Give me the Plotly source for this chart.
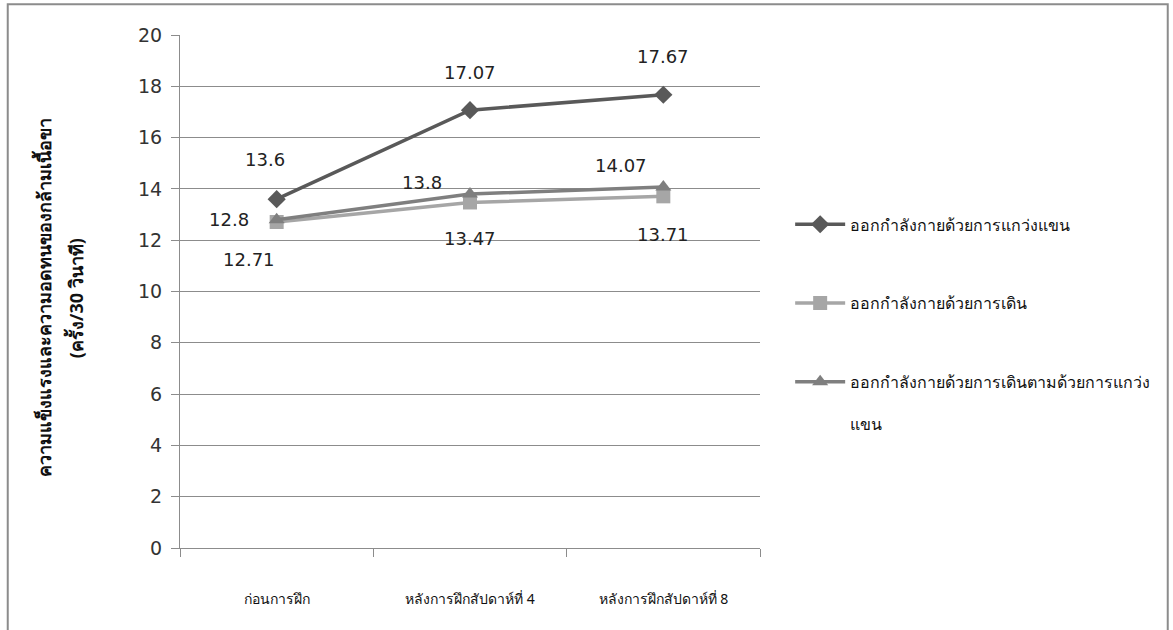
import plotly.graph_objects as go

categories = ["ก่อนการฝึก", "หลังการฝึกสัปดาห์ที่ 4", "หลังการฝึกสัปดาห์ที่ 8"]
series_names = [
    "ออกกำลังกายด้วยการแกว่งแขน",
    "ออกกำลังกายด้วยการเดิน",
    "ออกกำลังกายด้วยการเดินตามด้วยการแกว่ง<br><br>แขน",
]
arm_swing = [13.6, 17.07, 17.67]
walking = [12.71, 13.47, 13.71]
walk_arm = [12.8, 13.8, 14.07]
y_ticks = [0, 2, 4, 6, 8, 10, 12, 14, 16, 18, 20]
y_title_lines = ["ความแข็งแรงและความอดทนของกล้ามเนื้อขา", "(ครั้ง/30 วินาที)"]

colors = ["#595959", "#A6A6A6", "#7F7F7F"]
symbols = ["diamond", "square", "triangle-up"]
data = [arm_swing, walking, walk_arm]

fig = go.Figure()
for i, (name, vals) in enumerate(zip(series_names, data)):
    fig.add_trace(go.Scatter(
        x=categories, y=vals, name=name, mode="lines+markers",
        line=dict(color=colors[i], width=3.5),
        marker=dict(symbol=symbols[i], size=14, color=colors[i]),
        legendgroup=f"g{i}",
    ))

label_font = dict(family="DejaVu Sans", size=18, color="#222")
offsets = {
    0: [(-12, 40), (0, 38), (0, 38)],
    1: [(-28, -38), (0, -36), (0, -38)],
    2: [(-48, 0), (-48, 12), (-42, 22)],
}
for si, vals in enumerate(data):
    for ci, v in enumerate(vals):
        dx, dy = offsets[si][ci]
        fig.add_annotation(x=categories[ci], y=v, text=f"{v:g}", showarrow=False,
                           xshift=dx, yshift=dy, font=label_font)

# y-axis title (two rotated lines)
for xp, line in zip([-0.236, -0.181], y_title_lines):
    fig.add_annotation(x=xp, y=0.487, xref="paper", yref="paper", text=f"<b>{line}</b>",
                       textangle=-90, showarrow=False, xanchor="center", yanchor="middle",
                       font=dict(family="Noto Sans, DejaVu Sans", size=18, color="#111"))

fig.add_shape(type="rect", xref="paper", yref="paper",
              x0=-0.297, x1=1.703, y0=-0.2, y1=1.06,
              line=dict(color="#8C8C8C", width=2), layer="below")

fig.update_layout(
    width=1173, height=630,
    margin=dict(l=180, r=413, t=35, b=82),
    paper_bgcolor="white", plot_bgcolor="white",
    showlegend=True,
    legend=dict(x=1.052, y=0.664, xanchor="left", yanchor="top",
                font=dict(family="Noto Sans, DejaVu Sans", size=16, color="#111"),
                tracegroupgap=55, itemwidth=50, valign="top",
                bgcolor="rgba(0,0,0,0)"),
    xaxis=dict(type="category", range=[-0.5, 2.5], tickson="boundaries",
               ticks="outside", ticklen=8, tickcolor="#8C8C8C",
               showline=True, linecolor="#8C8C8C", linewidth=1, showgrid=False,
               ticklabelstandoff=38,
               tickfont=dict(family="Noto Sans, DejaVu Sans", size=14, color="#111")),
    yaxis=dict(range=[0, 20], tickvals=y_ticks, ticks="outside", ticklen=8,
               tickcolor="#8C8C8C", showline=True, linecolor="#8C8C8C", linewidth=1,
               showgrid=True, gridcolor="#8C8C8C", gridwidth=1, zeroline=False,
               ticklabelstandoff=5,
               tickfont=dict(family="DejaVu Sans", size=19, color="#333")),
)

fig.write_html("out.html")
